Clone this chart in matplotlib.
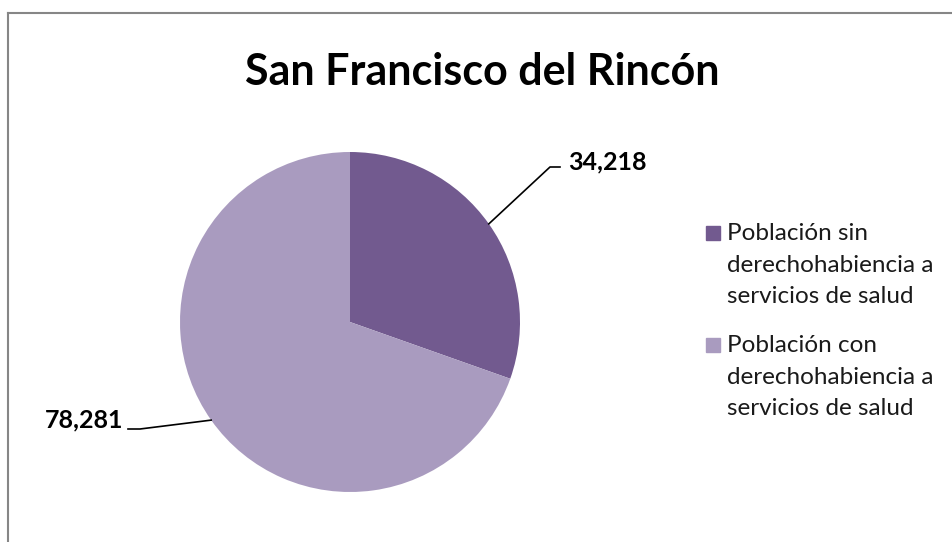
import numpy as np
import matplotlib.pyplot as plt
from matplotlib.lines import Line2D

# datos
categorias = ["Población sin\nderechohabiencia a\nservicios de salud",
              "Población con\nderechohabiencia a\nservicios de salud"]
valores = [34218, 78281]
etiquetas = ["34,218", "78,281"]
colores = ["#725A8F", "#A99BBF"]
titulo = "San Francisco del Rincón"

W, H = 952, 542
plt.rcParams['font.family'] = ['Lato', 'DejaVu Sans']

fig = plt.figure(figsize=(W / 100, H / 100), dpi=100)
ax = fig.add_axes([0, 0, 1, 1])

# marco del grafico (solo borde superior e izquierdo visibles)
fig.add_artist(Line2D([8 / W, 8 / W], [0, 1 - 13 / H], transform=fig.transFigure,
                      color="#868686", lw=1.5))
fig.add_artist(Line2D([8 / W, 1], [1 - 13 / H, 1 - 13 / H], transform=fig.transFigure,
                      color="#868686", lw=1.5))

cx, cy, r = 350, H - 322, 170
wedges, _ = ax.pie(valores, colors=colores, startangle=90, counterclock=False,
                   center=(cx, cy), radius=r, frame=True)
ax.set_xlim(0, W)
ax.set_ylim(0, H)
ax.set_aspect("equal")
ax.axis("off")

ax.text(482, H - 72, titulo, ha="center", va="center", fontsize=31, fontweight="bold")

# etiquetas con lineas guia
pos_etq = [(560, H - 167, 568, H - 162, "left"), (128, H - 429, 123, H - 420, "right")]
for w, etq, (ex, ey, tx, ty, ha) in zip(wedges, etiquetas, pos_etq):
    ang = np.deg2rad((w.theta1 + w.theta2) / 2)
    px, py = cx + r * np.cos(ang), cy + r * np.sin(ang)
    kx = ex - 10 if ha == "left" else ex + 12
    ax.plot([px, kx, ex], [py, ey, ey], color="black", lw=1.2)
    ax.text(tx, ty, etq, ha=ha, va="center", fontsize=18, fontweight="bold")

# leyenda
ys = [H - 233, H - 345]
for c, cat, y in zip(colores, categorias, ys):
    ax.add_patch(plt.Rectangle((706, y - 7), 14, 14, color=c))
    ax.text(727, y + 10, cat, ha="left", va="top", fontsize=17.5, linespacing=1.62,
            color="#1a1a1a")

fig.savefig("out.png", dpi=100)
